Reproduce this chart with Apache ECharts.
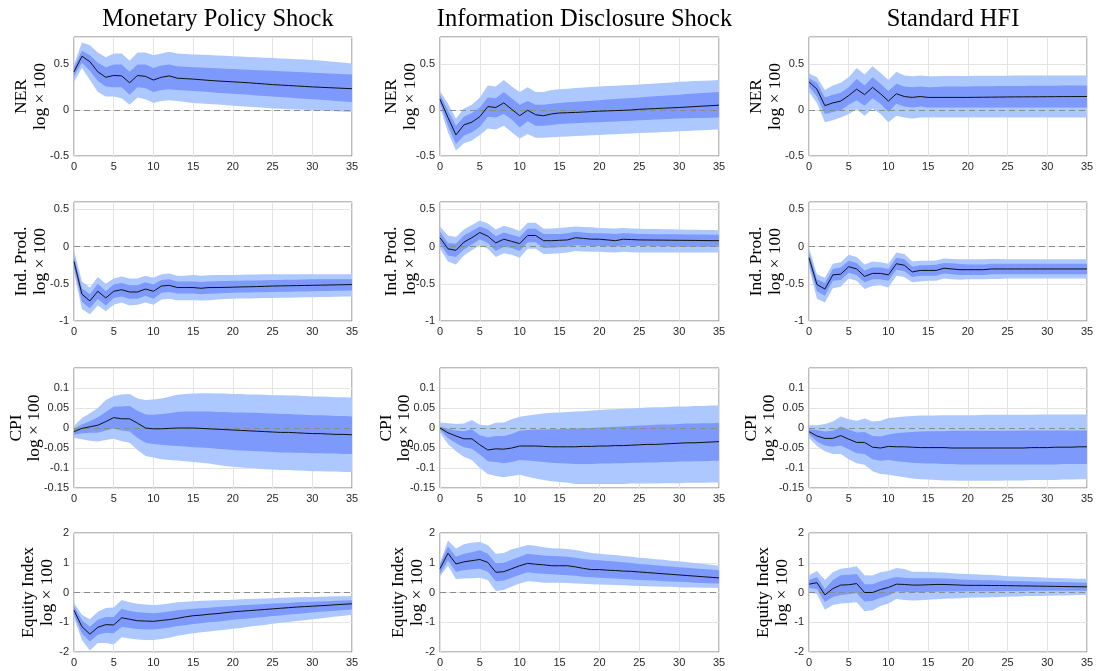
<!DOCTYPE html>
<html>
<head>
<meta charset="utf-8">
<script src="https://cdn.jsdelivr.net/npm/echarts@6/dist/echarts.min.js"></script>
<style>html,body{margin:0;padding:0;background:#fff}#c{width:1097px;height:671px}</style>
</head>
<body>
<div id="c"></div>
<script>
// ---------------- DATA ----------------
const horizons = [0,1,2,3,4,5,6,7,8,9,10,11,12,13,14,15,16,17,18,19,20,21,22,23,24,25,26,27,28,29,30,31,32,33,34,35];
const shocks = ['Monetary Policy Shock', 'Information Disclosure Shock', 'Standard HFI'];
const variables = ['NER', 'Ind. Prod.', 'CPI', 'Equity Index'];
const unitLabel = 'log × 100';
const xTicks = [0,5,10,15,20,25,30,35];
const yTicksNER = [-0.5, 0, 0.5];
const yTicksIP = [-1, -0.5, 0, 0.5];
const yTicksCPI = [-0.15, -0.1, -0.05, 0, 0.05, 0.1];
const yTicksEQ = [-2, -1, 0, 1, 2];

// NER - Monetary Policy
const nerMpMed  = [0.42,0.59,0.53,0.42,0.36,0.38,0.375,0.30,0.38,0.37, 0.33,0.36,0.375,0.35,0.345,0.34,0.333,0.326,0.32,0.315, 0.31,0.305,0.30,0.293,0.287,0.28,0.275,0.27,0.265,0.26, 0.255,0.251,0.247,0.243,0.239,0.235];
const nerMpHi68 = [0.47,0.65,0.60,0.52,0.47,0.50,0.50,0.42,0.50,0.50, 0.46,0.49,0.50,0.48,0.475,0.47,0.466,0.462,0.458,0.454, 0.45,0.446,0.442,0.438,0.434,0.43,0.426,0.422,0.418,0.414, 0.41,0.406,0.402,0.398,0.394,0.39];
const nerMpLo68 = [0.37,0.52,0.43,0.32,0.26,0.25,0.25,0.17,0.25,0.24, 0.20,0.22,0.23,0.22,0.215,0.21,0.204,0.198,0.192,0.186, 0.18,0.174,0.168,0.162,0.156,0.15,0.144,0.138,0.132,0.126, 0.12,0.114,0.108,0.102,0.096,0.09];
const nerMpHi90 = [0.50,0.74,0.71,0.63,0.58,0.62,0.62,0.54,0.63,0.63, 0.60,0.62,0.64,0.62,0.615,0.61,0.606,0.602,0.598,0.594, 0.59,0.586,0.582,0.578,0.574,0.57,0.566,0.562,0.558,0.554, 0.55,0.544,0.536,0.528,0.52,0.51];
const nerMpLo90 = [0.31,0.46,0.33,0.20,0.15,0.15,0.13,0.06,0.14,0.12, 0.08,0.10,0.11,0.10,0.09,0.08,0.074,0.068,0.062,0.056, 0.05,0.044,0.038,0.032,0.026,0.02,0.016,0.012,0.008,0.004, 0.0,-0.004,-0.008,-0.012,-0.016,-0.02];

// NER - Information Disclosure
const nerIdMed  = [0.12,-0.08,-0.27,-0.16,-0.13,-0.07,0.04,0.03,0.08,0.01, -0.06,0.0,-0.05,-0.06,-0.04,-0.03,-0.027,-0.024,-0.02,-0.015, -0.01,-0.007,-0.004,-0.001,0.003,0.01,0.014,0.018,0.022,0.026, 0.03,0.035,0.04,0.045,0.05,0.055];
const nerIdHi68 = [0.17,0.0,-0.17,-0.07,-0.03,0.03,0.14,0.13,0.20,0.13, 0.06,0.10,0.06,0.06,0.07,0.08,0.086,0.092,0.098,0.104, 0.11,0.116,0.122,0.128,0.134,0.14,0.146,0.152,0.158,0.164, 0.17,0.176,0.182,0.188,0.194,0.20];
const nerIdLo68 = [0.08,-0.17,-0.37,-0.28,-0.24,-0.18,-0.07,-0.08,-0.04,-0.10, -0.19,-0.12,-0.17,-0.17,-0.16,-0.15,-0.146,-0.142,-0.138,-0.134, -0.13,-0.126,-0.122,-0.118,-0.114,-0.11,-0.106,-0.102,-0.098,-0.094, -0.09,-0.088,-0.086,-0.084,-0.082,-0.08];
const nerIdHi90 = [0.21,0.07,-0.09,0.02,0.06,0.14,0.27,0.26,0.33,0.26, 0.20,0.25,0.20,0.20,0.22,0.23,0.236,0.242,0.248,0.254, 0.26,0.264,0.268,0.272,0.276,0.28,0.286,0.292,0.298,0.304, 0.31,0.314,0.318,0.322,0.326,0.33];
const nerIdLo90 = [0.03,-0.24,-0.44,-0.36,-0.33,-0.27,-0.20,-0.21,-0.17,-0.24, -0.31,-0.26,-0.30,-0.30,-0.295,-0.29,-0.286,-0.282,-0.278,-0.274, -0.27,-0.266,-0.262,-0.258,-0.254,-0.25,-0.246,-0.242,-0.238,-0.234, -0.23,-0.226,-0.222,-0.218,-0.214,-0.21];

// NER - Standard HFI
const nerHfMed  = [0.31,0.23,0.05,0.08,0.10,0.16,0.23,0.17,0.25,0.18, 0.10,0.18,0.15,0.14,0.15,0.14,0.14,0.14,0.14,0.14, 0.14,0.141,0.142,0.143,0.144,0.145,0.146,0.146,0.147,0.147, 0.148,0.148,0.149,0.149,0.15,0.15];
const nerHfHi68 = [0.35,0.30,0.14,0.17,0.19,0.25,0.34,0.27,0.36,0.29, 0.21,0.29,0.26,0.25,0.26,0.25,0.255,0.258,0.26,0.26, 0.26,0.261,0.262,0.263,0.264,0.265,0.266,0.266,0.267,0.267, 0.268,0.268,0.269,0.269,0.27,0.27];
const nerHfLo68 = [0.26,0.15,-0.04,-0.02,0.0,0.06,0.11,0.05,0.13,0.07, -0.02,0.07,0.04,0.03,0.04,0.03,0.03,0.03,0.03,0.03, 0.03,0.03,0.03,0.03,0.03,0.03,0.03,0.03,0.03,0.03, 0.03,0.03,0.03,0.03,0.03,0.03];
const nerHfHi90 = [0.40,0.36,0.22,0.27,0.30,0.36,0.46,0.39,0.48,0.41, 0.33,0.42,0.38,0.37,0.38,0.37,0.372,0.374,0.375,0.375, 0.375,0.376,0.377,0.377,0.378,0.378,0.379,0.379,0.38,0.38, 0.38,0.38,0.38,0.38,0.38,0.38];
const nerHfLo90 = [0.20,0.08,-0.13,-0.11,-0.08,-0.04,0.01,-0.06,0.02,-0.04, -0.13,-0.06,-0.08,-0.09,-0.08,-0.08,-0.08,-0.08,-0.08,-0.08, -0.08,-0.08,-0.08,-0.08,-0.08,-0.08,-0.08,-0.08,-0.08,-0.08, -0.08,-0.08,-0.08,-0.08,-0.08,-0.08];

// Ind. Prod. - Monetary Policy
const ipMpMed  = [-0.20,-0.64,-0.73,-0.60,-0.69,-0.60,-0.58,-0.61,-0.61,-0.57, -0.60,-0.53,-0.52,-0.55,-0.55,-0.55,-0.56,-0.55,-0.55,-0.548, -0.545,-0.542,-0.54,-0.537,-0.534,-0.53,-0.528,-0.526,-0.524,-0.522, -0.52,-0.518,-0.516,-0.514,-0.512,-0.51];
const ipMpHi68 = [-0.13,-0.56,-0.64,-0.50,-0.60,-0.51,-0.49,-0.52,-0.52,-0.48, -0.51,-0.45,-0.44,-0.47,-0.47,-0.47,-0.475,-0.47,-0.465,-0.462, -0.46,-0.458,-0.456,-0.454,-0.452,-0.45,-0.448,-0.446,-0.444,-0.442, -0.44,-0.44,-0.44,-0.44,-0.44,-0.44];
const ipMpLo68 = [-0.28,-0.74,-0.83,-0.70,-0.79,-0.69,-0.67,-0.70,-0.70,-0.66, -0.70,-0.62,-0.61,-0.63,-0.63,-0.63,-0.64,-0.635,-0.63,-0.625, -0.62,-0.618,-0.616,-0.614,-0.612,-0.61,-0.608,-0.606,-0.604,-0.602, -0.60,-0.598,-0.596,-0.594,-0.592,-0.59];
const ipMpHi90 = [-0.05,-0.47,-0.55,-0.41,-0.50,-0.43,-0.40,-0.43,-0.43,-0.39, -0.42,-0.37,-0.36,-0.39,-0.39,-0.38,-0.39,-0.385,-0.38,-0.38, -0.38,-0.378,-0.376,-0.374,-0.372,-0.37,-0.37,-0.37,-0.37,-0.37, -0.37,-0.37,-0.37,-0.37,-0.37,-0.37];
const ipMpLo90 = [-0.35,-0.84,-0.91,-0.79,-0.87,-0.78,-0.75,-0.79,-0.78,-0.75, -0.78,-0.71,-0.70,-0.72,-0.72,-0.72,-0.725,-0.72,-0.71,-0.705, -0.70,-0.698,-0.696,-0.694,-0.692,-0.69,-0.688,-0.686,-0.684,-0.682, -0.68,-0.678,-0.676,-0.674,-0.672,-0.67];

// Ind. Prod. - Information Disclosure
const ipIdMed  = [0.12,-0.03,-0.05,0.06,0.12,0.19,0.14,0.05,0.10,0.07, 0.04,0.15,0.15,0.08,0.08,0.085,0.09,0.12,0.11,0.10, 0.10,0.09,0.08,0.10,0.095,0.09,0.089,0.088,0.087,0.086, 0.085,0.084,0.083,0.082,0.081,0.08];
const ipIdHi68 = [0.20,0.05,0.04,0.15,0.21,0.27,0.23,0.14,0.19,0.16, 0.13,0.24,0.24,0.17,0.17,0.17,0.18,0.20,0.19,0.18, 0.18,0.175,0.17,0.18,0.175,0.17,0.169,0.168,0.167,0.166, 0.165,0.164,0.163,0.162,0.161,0.16];
const ipIdLo68 = [0.04,-0.12,-0.14,-0.04,0.03,0.10,0.05,-0.06,0.0,-0.02, -0.06,0.06,0.06,-0.02,-0.015,-0.01,0.0,0.02,0.015,0.01, 0.01,0.005,0.0,0.015,0.012,0.01,0.008,0.006,0.004,0.002, 0.0,0.0,0.0,0.0,0.0,0.0];
const ipIdHi90 = [0.27,0.15,0.13,0.23,0.29,0.35,0.31,0.23,0.28,0.25, 0.21,0.32,0.32,0.24,0.245,0.25,0.26,0.27,0.265,0.26, 0.25,0.248,0.245,0.25,0.245,0.24,0.238,0.236,0.234,0.232, 0.23,0.228,0.226,0.224,0.222,0.22];
const ipIdLo90 = [-0.03,-0.20,-0.24,-0.12,-0.05,0.02,-0.03,-0.14,-0.09,-0.11, -0.15,-0.03,-0.03,-0.10,-0.095,-0.09,-0.08,-0.06,-0.065,-0.07, -0.07,-0.075,-0.08,-0.07,-0.075,-0.08,-0.08,-0.08,-0.08,-0.08, -0.08,-0.08,-0.08,-0.08,-0.08,-0.08];

// Ind. Prod. - Standard HFI
const ipHfMed  = [-0.15,-0.51,-0.57,-0.38,-0.37,-0.27,-0.30,-0.40,-0.36,-0.36, -0.38,-0.23,-0.25,-0.34,-0.32,-0.32,-0.32,-0.29,-0.30,-0.31, -0.31,-0.31,-0.31,-0.30,-0.30,-0.30,-0.30,-0.30,-0.30,-0.30, -0.30,-0.30,-0.30,-0.30,-0.30,-0.30];
const ipHfHi68 = [-0.08,-0.44,-0.49,-0.30,-0.28,-0.19,-0.22,-0.32,-0.28,-0.28, -0.30,-0.15,-0.17,-0.27,-0.25,-0.25,-0.245,-0.22,-0.225,-0.235, -0.24,-0.24,-0.24,-0.23,-0.23,-0.23,-0.23,-0.23,-0.23,-0.23, -0.23,-0.23,-0.23,-0.23,-0.23,-0.23];
const ipHfLo68 = [-0.22,-0.60,-0.66,-0.46,-0.45,-0.35,-0.38,-0.48,-0.44,-0.44, -0.46,-0.31,-0.33,-0.41,-0.39,-0.39,-0.39,-0.36,-0.37,-0.38, -0.38,-0.38,-0.38,-0.37,-0.37,-0.37,-0.37,-0.37,-0.37,-0.37, -0.37,-0.37,-0.37,-0.37,-0.37,-0.37];
const ipHfHi90 = [-0.02,-0.37,-0.42,-0.23,-0.21,-0.11,-0.14,-0.24,-0.20,-0.21, -0.23,-0.08,-0.10,-0.20,-0.19,-0.19,-0.185,-0.16,-0.165,-0.17, -0.17,-0.17,-0.17,-0.165,-0.165,-0.17,-0.17,-0.17,-0.17,-0.17, -0.17,-0.17,-0.17,-0.17,-0.17,-0.17];
const ipHfLo90 = [-0.28,-0.70,-0.75,-0.56,-0.54,-0.43,-0.46,-0.57,-0.53,-0.52, -0.55,-0.39,-0.41,-0.48,-0.47,-0.46,-0.46,-0.43,-0.44,-0.445, -0.44,-0.44,-0.44,-0.435,-0.435,-0.43,-0.43,-0.43,-0.43,-0.43, -0.43,-0.43,-0.43,-0.43,-0.43,-0.43];

// CPI - Monetary Policy
const cpiMpMed  = [-0.009,-0.001,0.003,0.007,0.016,0.026,0.023,0.023,0.012,0.0, -0.002,-0.002,-0.001,0.0,0.0,0.0,-0.001,-0.002,-0.003,-0.004, -0.005,-0.006,-0.007,-0.008,-0.009,-0.010,-0.011,-0.011,-0.012,-0.013, -0.014,-0.014,-0.015,-0.016,-0.016,-0.017];
const cpiMpHi68 = [-0.002,0.009,0.017,0.027,0.040,0.053,0.054,0.055,0.043,0.034, 0.033,0.035,0.037,0.040,0.041,0.041,0.041,0.041,0.040,0.040, 0.039,0.039,0.038,0.038,0.037,0.036,0.035,0.035,0.034,0.033, 0.032,0.032,0.031,0.030,0.030,0.029];
const cpiMpLo68 = [-0.017,-0.013,-0.012,-0.012,-0.006,-0.001,-0.006,-0.009,-0.025,-0.037, -0.040,-0.042,-0.044,-0.045,-0.046,-0.048,-0.049,-0.050,-0.052,-0.053, -0.055,-0.056,-0.057,-0.058,-0.059,-0.060,-0.061,-0.061,-0.062,-0.062, -0.063,-0.063,-0.064,-0.064,-0.065,-0.065];
const cpiMpHi90 = [0.005,0.025,0.037,0.050,0.070,0.080,0.084,0.085,0.074,0.070, 0.071,0.074,0.078,0.083,0.085,0.086,0.087,0.087,0.086,0.086, 0.085,0.085,0.084,0.084,0.083,0.082,0.082,0.081,0.081,0.080, 0.079,0.079,0.078,0.077,0.077,0.076];
const cpiMpLo90 = [-0.025,-0.028,-0.032,-0.034,-0.030,-0.027,-0.033,-0.037,-0.055,-0.070, -0.074,-0.078,-0.080,-0.081,-0.083,-0.085,-0.087,-0.089,-0.092,-0.095, -0.097,-0.099,-0.100,-0.101,-0.103,-0.104,-0.105,-0.105,-0.106,-0.107, -0.108,-0.108,-0.109,-0.109,-0.110,-0.110];

// CPI - Information Disclosure
const cpiIdMed  = [0.0,-0.012,-0.020,-0.027,-0.027,-0.042,-0.055,-0.052,-0.053,-0.050, -0.045,-0.045,-0.045,-0.046,-0.047,-0.047,-0.047,-0.047,-0.046,-0.046, -0.045,-0.045,-0.044,-0.044,-0.043,-0.042,-0.041,-0.041,-0.040,-0.039, -0.038,-0.037,-0.037,-0.036,-0.035,-0.034];
const cpiIdHi68 = [0.003,-0.002,-0.006,-0.008,-0.003,-0.018,-0.024,-0.020,-0.020,-0.015, -0.007,-0.005,-0.004,-0.004,-0.003,-0.003,-0.002,-0.001,0.0,0.0, 0.001,0.002,0.003,0.004,0.005,0.006,0.007,0.008,0.009,0.009, 0.010,0.011,0.011,0.012,0.012,0.013];
const cpiIdLo68 = [-0.005,-0.025,-0.038,-0.048,-0.052,-0.066,-0.083,-0.085,-0.088,-0.085, -0.080,-0.081,-0.083,-0.085,-0.087,-0.088,-0.089,-0.090,-0.090,-0.090, -0.089,-0.089,-0.088,-0.088,-0.087,-0.087,-0.086,-0.086,-0.085,-0.085, -0.084,-0.084,-0.083,-0.083,-0.082,-0.082];
const cpiIdHi90 = [0.014,0.012,0.010,0.011,0.020,0.008,0.006,0.013,0.014,0.022, 0.028,0.031,0.034,0.036,0.038,0.039,0.040,0.041,0.042,0.044, 0.045,0.046,0.047,0.048,0.049,0.050,0.051,0.052,0.052,0.053, 0.054,0.054,0.055,0.055,0.056,0.056];
const cpiIdLo90 = [-0.012,-0.040,-0.058,-0.072,-0.080,-0.100,-0.115,-0.120,-0.123,-0.120, -0.117,-0.122,-0.126,-0.130,-0.133,-0.135,-0.137,-0.140,-0.140,-0.140, -0.140,-0.140,-0.140,-0.140,-0.139,-0.139,-0.139,-0.139,-0.138,-0.138, -0.138,-0.137,-0.137,-0.137,-0.136,-0.136];

// CPI - Standard HFI
const cpiHfMed  = [-0.009,-0.020,-0.026,-0.026,-0.019,-0.028,-0.036,-0.036,-0.048,-0.050, -0.046,-0.047,-0.047,-0.048,-0.049,-0.049,-0.049,-0.049,-0.050,-0.050, -0.050,-0.050,-0.050,-0.050,-0.050,-0.050,-0.050,-0.050,-0.049,-0.049, -0.049,-0.048,-0.048,-0.048,-0.047,-0.047];
const cpiHfHi68 = [-0.003,-0.005,-0.009,-0.007,0.004,-0.004,-0.011,-0.010,-0.020,-0.021, -0.016,-0.013,-0.011,-0.010,-0.009,-0.008,-0.008,-0.008,-0.007,-0.007, -0.007,-0.007,-0.007,-0.007,-0.007,-0.007,-0.007,-0.006,-0.006,-0.006, -0.006,-0.006,-0.006,-0.006,-0.006,-0.006];
const cpiHfLo68 = [-0.016,-0.034,-0.044,-0.047,-0.044,-0.053,-0.063,-0.065,-0.078,-0.082, -0.080,-0.083,-0.085,-0.087,-0.088,-0.089,-0.089,-0.090,-0.090,-0.091, -0.091,-0.091,-0.091,-0.091,-0.091,-0.091,-0.091,-0.091,-0.091,-0.091, -0.091,-0.091,-0.090,-0.090,-0.090,-0.090];
const cpiHfHi90 = [0.007,0.007,0.010,0.016,0.029,0.022,0.018,0.024,0.016,0.018, 0.025,0.027,0.029,0.030,0.031,0.031,0.031,0.032,0.032,0.032, 0.032,0.032,0.033,0.033,0.033,0.033,0.033,0.033,0.033,0.034, 0.034,0.034,0.034,0.034,0.034,0.034];
const cpiHfLo90 = [-0.025,-0.045,-0.058,-0.065,-0.065,-0.078,-0.088,-0.092,-0.108,-0.115, -0.117,-0.120,-0.123,-0.126,-0.128,-0.129,-0.130,-0.131,-0.131,-0.132, -0.132,-0.132,-0.132,-0.132,-0.132,-0.131,-0.131,-0.131,-0.130,-0.130, -0.130,-0.130,-0.129,-0.129,-0.128,-0.128];

// Equity Index - Monetary Policy
const eqMpMed  = [-0.60,-1.15,-1.40,-1.17,-1.08,-1.09,-0.85,-0.90,-0.95,-0.96, -0.97,-0.94,-0.91,-0.87,-0.82,-0.78,-0.76,-0.73,-0.71,-0.68, -0.65,-0.63,-0.61,-0.59,-0.57,-0.55,-0.53,-0.51,-0.49,-0.475, -0.46,-0.445,-0.43,-0.41,-0.395,-0.38];
const eqMpHi68 = [-0.45,-0.93,-1.15,-0.92,-0.82,-0.82,-0.55,-0.62,-0.66,-0.68, -0.70,-0.67,-0.64,-0.60,-0.57,-0.55,-0.53,-0.51,-0.49,-0.47, -0.45,-0.43,-0.42,-0.40,-0.39,-0.37,-0.36,-0.35,-0.33,-0.32, -0.31,-0.30,-0.29,-0.28,-0.27,-0.26];
const eqMpLo68 = [-0.74,-1.38,-1.65,-1.42,-1.35,-1.37,-1.15,-1.19,-1.23,-1.24, -1.24,-1.21,-1.18,-1.13,-1.10,-1.06,-1.03,-1.00,-0.98,-0.95, -0.92,-0.89,-0.87,-0.84,-0.82,-0.79,-0.77,-0.74,-0.72,-0.70, -0.67,-0.65,-0.63,-0.61,-0.59,-0.57];
const eqMpHi90 = [-0.35,-0.75,-0.90,-0.65,-0.52,-0.50,-0.25,-0.33,-0.38,-0.40, -0.42,-0.40,-0.37,-0.33,-0.31,-0.29,-0.28,-0.27,-0.26,-0.25, -0.24,-0.23,-0.22,-0.21,-0.20,-0.19,-0.18,-0.17,-0.16,-0.155, -0.15,-0.14,-0.135,-0.13,-0.125,-0.12];
const eqMpLo90 = [-0.85,-1.60,-1.95,-1.70,-1.70,-1.75,-1.50,-1.55,-1.58,-1.60, -1.60,-1.56,-1.52,-1.45,-1.41,-1.37,-1.34,-1.31,-1.28,-1.25, -1.22,-1.19,-1.15,-1.12,-1.09,-1.05,-1.02,-0.99,-0.96,-0.93, -0.90,-0.87,-0.84,-0.81,-0.78,-0.75];

// Equity Index - Information Disclosure
const eqIdMed  = [0.80,1.32,0.96,1.03,1.07,1.11,1.01,0.68,0.70,0.80, 0.90,0.98,0.95,0.93,0.90,0.90,0.90,0.86,0.81,0.77, 0.77,0.75,0.74,0.72,0.71,0.69,0.67,0.65,0.63,0.61, 0.59,0.57,0.55,0.53,0.51,0.49];
const eqIdHi68 = [0.95,1.55,1.20,1.30,1.35,1.42,1.30,0.98,1.00,1.10, 1.20,1.30,1.27,1.24,1.23,1.22,1.20,1.17,1.13,1.10, 1.08,1.06,1.04,1.02,0.99,0.96,0.94,0.92,0.89,0.87, 0.85,0.83,0.81,0.79,0.77,0.75];
const eqIdLo68 = [0.62,1.08,0.70,0.75,0.78,0.80,0.70,0.38,0.40,0.50, 0.60,0.68,0.65,0.63,0.61,0.60,0.58,0.56,0.53,0.51, 0.50,0.48,0.47,0.45,0.44,0.42,0.41,0.40,0.38,0.37, 0.36,0.35,0.33,0.32,0.31,0.30];
const eqIdHi90 = [1.00,1.75,1.48,1.62,1.68,1.70,1.60,1.30,1.33,1.45, 1.52,1.60,1.57,1.52,1.49,1.48,1.46,1.43,1.38,1.33, 1.30,1.28,1.26,1.23,1.20,1.17,1.15,1.12,1.10,1.07, 1.05,1.02,0.99,0.96,0.93,0.90];
const eqIdLo90 = [0.55,0.90,0.45,0.47,0.48,0.50,0.42,0.05,0.08,0.20, 0.30,0.38,0.36,0.33,0.33,0.33,0.32,0.30,0.29,0.28, 0.27,0.26,0.25,0.24,0.23,0.22,0.21,0.20,0.19,0.19, 0.18,0.17,0.17,0.16,0.16,0.15];

// Equity Index - Standard HFI
const eqHfMed  = [0.28,0.33,-0.08,0.13,0.25,0.26,0.30,0.0,0.0,0.10, 0.17,0.28,0.27,0.25,0.25,0.26,0.27,0.27,0.26,0.25, 0.24,0.24,0.24,0.235,0.235,0.23,0.226,0.222,0.218,0.214, 0.21,0.206,0.202,0.198,0.194,0.19];
const eqHfHi68 = [0.42,0.52,0.12,0.42,0.58,0.60,0.62,0.28,0.28,0.38, 0.45,0.52,0.50,0.48,0.48,0.48,0.48,0.47,0.46,0.44, 0.43,0.42,0.415,0.41,0.40,0.39,0.385,0.38,0.37,0.365, 0.36,0.355,0.35,0.345,0.34,0.33];
const eqHfLo68 = [0.15,0.12,-0.32,-0.15,-0.08,-0.06,-0.02,-0.30,-0.28,-0.18, -0.10,0.03,0.02,0.0,0.01,0.02,0.025,0.03,0.03,0.035, 0.04,0.04,0.042,0.044,0.046,0.05,0.052,0.054,0.056,0.058, 0.06,0.06,0.06,0.06,0.06,0.06];
const eqHfHi90 = [0.58,0.72,0.42,0.68,0.80,0.83,0.88,0.58,0.57,0.68, 0.72,0.82,0.79,0.70,0.70,0.69,0.68,0.67,0.65,0.63, 0.62,0.61,0.60,0.59,0.57,0.55,0.54,0.53,0.52,0.51, 0.50,0.49,0.48,0.47,0.465,0.46];
const eqHfLo90 = [0.0,-0.05,-0.58,-0.42,-0.37,-0.35,-0.33,-0.63,-0.60,-0.45, -0.37,-0.22,-0.25,-0.27,-0.26,-0.24,-0.23,-0.21,-0.20,-0.19, -0.18,-0.17,-0.165,-0.16,-0.15,-0.14,-0.135,-0.13,-0.12,-0.115, -0.11,-0.105,-0.10,-0.09,-0.085,-0.08];

// ---------------- LAYOUT / STYLE ----------------
const panelData = [
  [[nerMpMed,nerMpLo68,nerMpHi68,nerMpLo90,nerMpHi90],[nerIdMed,nerIdLo68,nerIdHi68,nerIdLo90,nerIdHi90],[nerHfMed,nerHfLo68,nerHfHi68,nerHfLo90,nerHfHi90]],
  [[ipMpMed,ipMpLo68,ipMpHi68,ipMpLo90,ipMpHi90],[ipIdMed,ipIdLo68,ipIdHi68,ipIdLo90,ipIdHi90],[ipHfMed,ipHfLo68,ipHfHi68,ipHfLo90,ipHfHi90]],
  [[cpiMpMed,cpiMpLo68,cpiMpHi68,cpiMpLo90,cpiMpHi90],[cpiIdMed,cpiIdLo68,cpiIdHi68,cpiIdLo90,cpiIdHi90],[cpiHfMed,cpiHfLo68,cpiHfHi68,cpiHfLo90,cpiHfHi90]],
  [[eqMpMed,eqMpLo68,eqMpHi68,eqMpLo90,eqMpHi90],[eqIdMed,eqIdLo68,eqIdHi68,eqIdLo90,eqIdHi90],[eqHfMed,eqHfLo68,eqHfHi68,eqHfLo90,eqHfHi90]]
];
const rowTicks = [yTicksNER, yTicksIP, yTicksCPI, yTicksEQ];
const rowAxis = [ {min:-0.5,max:0.8,interval:0.5}, {min:-1,max:0.6,interval:0.5}, {min:-0.15,max:0.15,interval:0.05}, {min:-2,max:2,interval:1} ];
const colLeft = [74, 440, 809];
const colWidth = [278, 279, 278];
const rowTop = [37, 202, 368, 533];
const rowHeight = [119, 119, 120, 119];
const labelOff = [[53,34],[53,34],[58,40],[46,27]];
const colCloser = [0, 4, 0];

const LIGHT = '#adc8ff';
const DARK = '#7c99fb';
const SERIF = '"Liberation Serif", "DejaVu Serif", serif';
const SANS = '"Liberation Sans", Arial, sans-serif';

const grids = [], xAxes = [], yAxes = [], series = [], graphics = [], titles = [];

function bandSeries(gi, lo, hi, color, z) {
  return {
    type: 'custom', xAxisIndex: gi, yAxisIndex: gi, z: z, silent: true, clip: true,
    data: horizons.map((h, i) => [h, lo[i], hi[i]]),
    encode: { x: 0, y: [1, 2] },
    renderItem: function (params, api) {
      if (params.dataIndex !== 0) return null;
      const up = horizons.map((h, i) => api.coord([h, hi[i]]));
      const dn = horizons.map((h, i) => api.coord([h, lo[i]])).reverse();
      return { type: 'polygon', shape: { points: up.concat(dn) }, style: { fill: color, stroke: null } };
    }
  };
}

shocks.forEach((s, c) => {
  titles.push({
    text: s, left: colLeft[c] + colWidth[c] / 2, top: 2, textAlign: 'center',
    textStyle: { fontFamily: SERIF, fontSize: 24.5, fontWeight: 'normal', color: '#000' }
  });
});

for (let r = 0; r < 4; r++) {
  for (let c = 0; c < 3; c++) {
    const gi = grids.length;
    const [med, lo68, hi68, lo90, hi90] = panelData[r][c];
    const ticks = rowTicks[r];
    grids.push({ left: colLeft[c], top: rowTop[r], width: colWidth[c], height: rowHeight[r], show: true, borderColor: '#7a7a7a', borderWidth: 1, backgroundColor: 'transparent' });
    xAxes.push({
      type: 'value', gridIndex: gi, min: 0, max: 35, interval: 5,
      axisLine: { show: false }, axisTick: { show: false },
      splitLine: { show: true, lineStyle: { color: '#e3e3e3', width: 1 } },
      axisLabel: { fontFamily: SANS, fontSize: 11, color: '#262626', margin: 5,
        formatter: v => xTicks.indexOf(v) >= 0 ? String(v) : '' }
    });
    yAxes.push({
      type: 'value', gridIndex: gi, min: rowAxis[r].min, max: rowAxis[r].max, interval: rowAxis[r].interval,
      axisLine: { show: false }, axisTick: { show: false },
      splitLine: { show: true, lineStyle: { color: '#e3e3e3', width: 1 } },
      axisLabel: { fontFamily: SANS, fontSize: 11, color: '#262626', margin: 5,
        formatter: v => ticks.some(t => Math.abs(t - v) < 1e-9) ? String(+v.toFixed(4)) : '' }
    });
    series.push(bandSeries(gi, lo90, hi90, LIGHT, 2));
    series.push(bandSeries(gi, lo68, hi68, DARK, 3));
    series.push({
      type: 'line', xAxisIndex: gi, yAxisIndex: gi, z: 5, silent: true,
      data: horizons.map((h, i) => [h, med[i]]),
      symbol: 'none', lineStyle: { color: '#111', width: 1 },
      markLine: {
        silent: true, symbol: 'none', label: { show: false }, animation: false,
        lineStyle: { type: [6, 4], color: '#8c8c8c', width: 1 },
        data: [{ yAxis: 0 }]
      }
    });
    const cy = rowTop[r] + rowHeight[r] / 2;
    graphics.push({
      type: 'text', x: colLeft[c] - labelOff[r][0] + colCloser[c], y: cy, rotation: Math.PI / 2,
      style: { text: variables[r], font: '17.5px ' + SERIF, fill: '#000', align: 'center', verticalAlign: 'middle' }
    });
    graphics.push({
      type: 'text', x: colLeft[c] - labelOff[r][1] + colCloser[c], y: cy, rotation: Math.PI / 2,
      style: { text: unitLabel, font: '17.5px ' + SERIF, fill: '#000', align: 'center', verticalAlign: 'middle' }
    });
  }
}

const chart = echarts.init(document.getElementById('c'), null, { renderer: 'canvas' });
chart.setOption({
  animation: false,
  backgroundColor: '#fff',
  title: titles,
  grid: grids,
  xAxis: xAxes,
  yAxis: yAxes,
  series: series,
  graphic: graphics
});
</script>
</body>
</html>
